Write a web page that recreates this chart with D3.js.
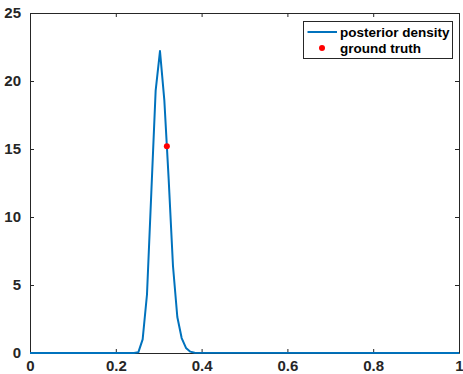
<!DOCTYPE html>
<html lang="en">
<head>
  <meta charset="UTF-8" />
  <title>Posterior density</title>
  <style>
    body {
      margin: 0;
      background-color: #fff;
    }

    svg {
      display: block;
      font-family: "Liberation Sans", Arial, sans-serif;
    }

    .tick text {
      font-size: 15px;
      font-weight: bold;
      fill: #262626;
    }

    .legend text {
      font-size: 13.5px;
      font-weight: bold;
      fill: #000;
    }
  </style>
</head>
<body>
  <svg></svg>

  <script src="https://d3js.org/d3.v7.min.js"></script>
  <script>
    // density curve (x on a 1/99 grid, zero outside the peak)
    const densityX = [0, 0.2424, 0.2525, 0.2626, 0.2727, 0.2828, 0.2929, 0.3030,
      0.3131, 0.3232, 0.3333, 0.3434, 0.3535, 0.3636, 0.3737, 0.3838, 1];
    const densityY = [0, 0, 0.05, 1.0, 4.3, 11.8, 19.3, 22.2,
      18.6, 12.8, 6.4, 2.65, 1.1, 0.37, 0.1, 0.02, 0];

    const truthX = [0.319];
    const truthY = [15.2];

    const xTicks = [0, 0.2, 0.4, 0.6, 0.8, 1];
    const yTicks = [0, 5, 10, 15, 20, 25];
    const legendLabels = ["posterior density", "ground truth"];

    const width = 463;
    const height = 374;
    const margin = { top: 13, right: 4, bottom: 21, left: 30 };

    const svg = d3.select("svg")
      .attr("width", width)
      .attr("height", height);

    const x = d3.scaleLinear().domain([0, 1]).range([margin.left, width - margin.right]);
    const y = d3.scaleLinear().domain([0, 25]).range([height - margin.bottom, margin.top]);

    const axisColor = "#262626";
    const tickLen = 4;

    // axes with inward ticks on all four sides
    const bottomAxis = svg.append("g")
      .attr("transform", `translate(0,${y(0)})`)
      .call(d3.axisBottom(x).tickValues(xTicks).tickSizeInner(-tickLen).tickSizeOuter(0)
        .tickPadding(7.5).tickFormat(d3.format("~g")));

    const leftAxis = svg.append("g")
      .attr("transform", `translate(${x(0)},0)`)
      .call(d3.axisLeft(y).tickValues(yTicks).tickSizeInner(-tickLen).tickSizeOuter(0)
        .tickPadding(9));

    const topAxis = svg.append("g")
      .attr("transform", `translate(0,${y(25)})`)
      .call(d3.axisTop(x).tickValues(xTicks).tickSizeInner(-tickLen).tickSizeOuter(0).tickFormat(""));

    const rightAxis = svg.append("g")
      .attr("transform", `translate(${x(1)},0)`)
      .call(d3.axisRight(y).tickValues(yTicks).tickSizeInner(-tickLen).tickSizeOuter(0).tickFormat(""));

    [bottomAxis, leftAxis, topAxis, rightAxis].forEach(a => {
      a.selectAll(".domain").attr("stroke", axisColor);
      a.selectAll(".tick line").attr("stroke", axisColor);
      a.attr("font-family", null).attr("font-size", null);
    });

    // density line
    const pts = densityX.map((d, i) => [d, densityY[i]]);
    const line = d3.line().x(d => x(d[0])).y(d => y(d[1]));

    svg.append("path")
      .datum(pts)
      .attr("fill", "none")
      .attr("stroke", "#0072BD")
      .attr("stroke-width", 2)
      .attr("stroke-linejoin", "round")
      .attr("d", line);

    // ground truth point
    svg.append("g")
      .selectAll("circle")
      .data(truthX.map((d, i) => [d, truthY[i]]))
      .join("circle")
      .attr("cx", d => x(d[0]))
      .attr("cy", d => y(d[1]))
      .attr("r", 3)
      .attr("fill", "#ff0000");

    // legend
    const legend = svg.append("g").attr("class", "legend");

    legend.append("rect")
      .attr("x", 303.5)
      .attr("y", 21.5)
      .attr("width", 149)
      .attr("height", 37)
      .attr("fill", "#fff")
      .attr("stroke", axisColor)
      .attr("stroke-width", 1);

    legend.append("line")
      .attr("x1", 307.5).attr("x2", 337)
      .attr("y1", 32).attr("y2", 32)
      .attr("stroke", "#0072BD")
      .attr("stroke-width", 2);

    legend.append("circle")
      .attr("cx", 322)
      .attr("cy", 48)
      .attr("r", 3)
      .attr("fill", "#ff0000");

    legend.selectAll("text")
      .data(legendLabels)
      .join("text")
      .attr("x", 340)
      .attr("y", (d, i) => 32 + i * 16.5)
      .attr("dy", "0.35em")
      .text(d => d);
  </script>
</body>
</html>
